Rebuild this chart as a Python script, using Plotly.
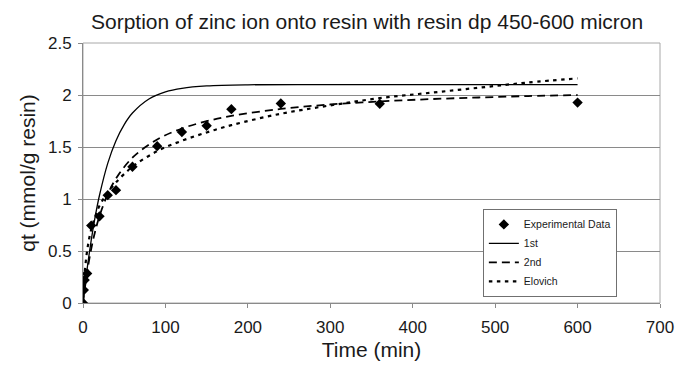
import plotly.graph_objects as go

title_text = "Sorption of zinc ion onto resin with resin dp 450-600 micron"

# Experimental data
t_exp = [0, 1, 2, 5, 10, 20, 30, 40, 60, 90, 120, 150, 180, 240, 360, 600]
q_exp = [0.0, 0.124, 0.22, 0.283, 0.744, 0.833, 1.037, 1.085, 1.31, 1.508, 1.644, 1.705, 1.864, 1.918, 1.915, 1.927]

# 1st order model curve
t_1st = [0, 1, 2, 5, 10, 15, 20, 30, 40, 50, 60, 80, 100, 120, 150, 200, 300, 400, 500, 600]
q_1st = [0.0, 0.070, 0.138, 0.328, 0.605, 0.839, 1.036, 1.343, 1.561, 1.716, 1.827, 1.962, 2.030, 2.064, 2.087, 2.098, 2.10, 2.10, 2.10, 2.10]

# 2nd order model curve
t_2nd = [0, 1, 2, 5, 10, 15, 20, 30, 40, 60, 90, 120, 150, 180, 240, 300, 360, 420, 480, 540, 600]
q_2nd = [0.0, 0.067, 0.130, 0.298, 0.522, 0.696, 0.836, 1.046, 1.196, 1.397, 1.572, 1.678, 1.748, 1.799, 1.866, 1.909, 1.938, 1.960, 1.976, 1.990, 2.0]

# Elovich model curve
t_elo = [0, 1, 2, 5, 10, 20, 30, 40, 60, 90, 120, 150, 180, 240, 300, 360, 420, 480, 540, 600]
q_elo = [0.0, 0.169, 0.284, 0.502, 0.707, 0.935, 1.06, 1.16, 1.31, 1.46, 1.56, 1.64, 1.71, 1.82, 1.90, 1.97, 2.02, 2.07, 2.12, 2.16]

x_ticks = [0, 100, 200, 300, 400, 500, 600, 700]
y_ticks = [0, 0.5, 1, 1.5, 2, 2.5]

FONT = "Liberation Sans, Arial, sans-serif"
AXIS_GRAY = "#8a8a8a"

fig = go.Figure()
fig.add_trace(go.Scatter(x=t_exp, y=q_exp, mode="markers", name="Experimental Data",
                         marker=dict(symbol="diamond", size=8, color="black")))
fig.add_trace(go.Scatter(x=t_1st, y=q_1st, mode="lines", name="1st",
                         line=dict(color="black", width=1.3, dash="solid", shape="spline")))
fig.add_trace(go.Scatter(x=t_2nd, y=q_2nd, mode="lines", name="2nd",
                         line=dict(color="black", width=1.8, dash="8px,5px", shape="spline")))
fig.add_trace(go.Scatter(x=t_elo, y=q_elo, mode="lines", name="Elovich",
                         line=dict(color="black", width=2.2, dash="3.5px,4.5px", shape="spline")))

fig.update_layout(
    width=684, height=360,
    margin=dict(l=75, r=32, t=35, b=65),
    paper_bgcolor="white", plot_bgcolor="white",
    font=dict(family=FONT, color="#1a1a1a"),
    title=dict(text=title_text, x=0.525, xanchor="center", y=0.962, yanchor="middle",
               font=dict(size=21, family=FONT, color="#1a1a1a")),
    showlegend=True,
    legend=dict(x=0.693, y=0.362, xanchor="left", yanchor="top",
                bgcolor="white", bordercolor="#707070", borderwidth=1,
                font=dict(size=10.5, family=FONT), itemwidth=30, tracegroupgap=0),
    xaxis=dict(range=[0, 700], tickvals=x_ticks, ticks="outside", ticklen=4,
               tickcolor=AXIS_GRAY, showline=True, linecolor=AXIS_GRAY, linewidth=1,
               showgrid=False, zeroline=False, tickfont=dict(size=17),
               ticklabelstandoff=5,
               title=dict(text="Time (min)", font=dict(size=21), standoff=5)),
    yaxis=dict(range=[0, 2.5], tickvals=y_ticks, ticks="outside", ticklen=4,
               tickcolor=AXIS_GRAY, showline=True, linecolor=AXIS_GRAY, linewidth=1,
               showgrid=True, gridcolor=AXIS_GRAY, gridwidth=1, zeroline=False,
               tickfont=dict(size=17), ticklabelstandoff=3,
               title=dict(text="qt (mmol/g resin)", font=dict(size=21), standoff=6)),
)

# plot area border (right and top)
fig.add_shape(type="rect", xref="paper", yref="paper", x0=0, y0=0, x1=1, y1=1,
              line=dict(color="#a8a8a8", width=1), layer="below")

fig.write_html("out.html")
